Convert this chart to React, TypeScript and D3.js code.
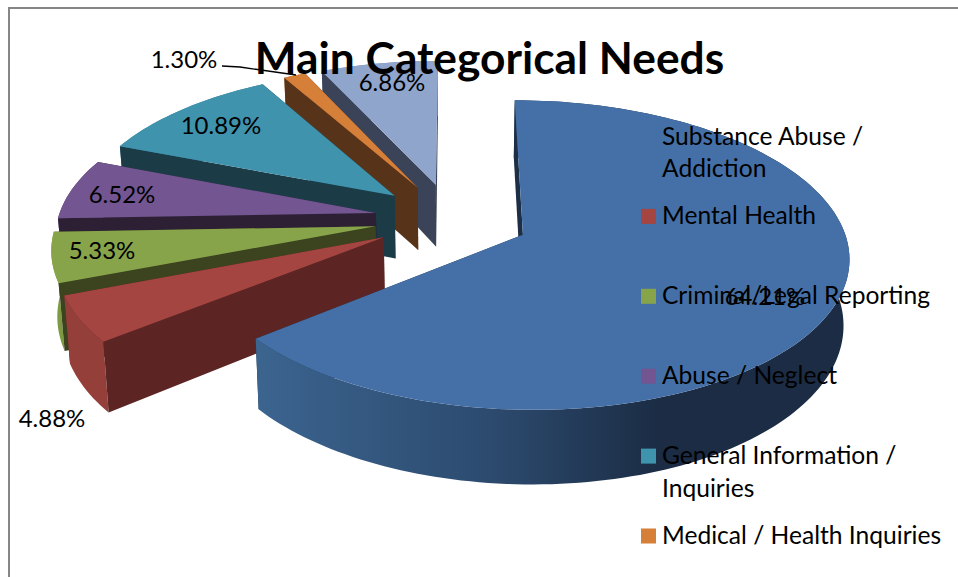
import * as d3 from "d3";

const categories = [
  "Substance Abuse / Addiction",
  "Mental Health",
  "Criminal/Legal Reporting",
  "Abuse / Neglect",
  "General Information / Inquiries",
  "Medical / Health Inquiries",
  "Other",
];
const values = [64.21, 4.88, 5.33, 6.52, 10.89, 1.3, 6.86];
const legendLines = [
  ["Substance Abuse /", "Addiction"],
  ["Mental Health"],
  ["Criminal/Legal Reporting"],
  ["Abuse / Neglect"],
  ["General Information /", "Inquiries"],
  ["Medical / Health Inquiries"],
];
const topColors = ["#4570a7", "#a54542", "#88a44a", "#725591", "#3f93ad", "#d67f39", "#8fa5cc"];
const sideColors = ["#1c2f47", "#5c2523", "#3b431f", "#2d2035", "#1b3b47", "#57331a", "#3a4358"];
const rimColors = ["url(#blueRim)", "#953f3b", "#7d9a42", "#5f4678", "#357a90", "#b06a30", "#7688aa"];

// label spots, same order as values
const labelSpots: [number, number][] = [
  [765, 305],
  [52, 427],
  [102, 259],
  [122, 203],
  [221, 134],
  [184, 68],
  [392, 91],
];

const width = 958;
const height = 577;
const cx = 452;
const cy = 219;
const radiusX = 318;
const radiusY = 148;
const explode = 0.244;
const perspective = 0.129;
const depth = 64;

// ground plane (u, v) to screen, z = 1 is the bottom face of the pie
function project(u: number, v: number, z: number): [number, number] {
  const p = 1 / (1 - perspective * v);
  const x = cx + radiusX * u * p;
  const y = cy + radiusY * v * p;
  return z ? [cx + (x - cx) * 0.985, y + depth * p] : [x, y];
}

const pie = d3
  .pie<number>()
  .sort(null)
  .startAngle(0)
  .endAngle(2 * Math.PI);

const closed = d3.line().curve(d3.curveLinearClosed);

export default function App() {
  const arcs = pie(values);

  const slices = arcs.map((a, i) => {
    const mid = (a.startAngle + a.endAngle) / 2;
    const ou = explode * Math.sin(mid);
    const ov = -explode * Math.cos(mid);
    const steps = Math.max(4, Math.ceil((a.endAngle - a.startAngle) * 40));
    const angles = d3.range(steps + 1).map((s) => a.startAngle + ((a.endAngle - a.startAngle) * s) / steps);
    const rim = (z: number) =>
      angles.map((t) => project(ou + Math.sin(t), ov - Math.cos(t), z));
    const apex = (z: number) => project(ou, ov, z);
    const top = rim(0);
    const bottom = rim(1);
    return {
      i,
      top: closed([apex(0), ...top]) || "",
      rimWall: closed([...top, ...bottom.slice().reverse()]) || "",
      startWall: closed([apex(0), top[0], bottom[0], apex(1)]) || "",
      endWall: closed([apex(0), top[steps], bottom[steps], apex(1)]) || "",
    };
  });

  // painter's order, back of the pie first
  const order = [6, 5, 4, 3, 2, 1, 0];

  return (
    <svg
      width={width}
      height={height}
      style={{ position: "absolute", left: 0, top: 0, background: "#fff", fontFamily: "Lato, Carlito, sans-serif" }}
    >
      <defs>
        <linearGradient id="blueRim" gradientUnits="userSpaceOnUse" x1={258} x2={850} y1={0} y2={0}>
          <stop offset="0" stopColor="#3b648f" />
          <stop offset="0.4" stopColor="#2c4a6e" />
          <stop offset="0.68" stopColor="#1b2c44" />
          <stop offset="1" stopColor="#1b2c44" />
        </linearGradient>
      </defs>

      <path d={`M9,${height}V8H${width}`} fill="none" stroke="#868686" strokeWidth={2} />

      {order.map((k) => {
        const s = slices[k];
        return (
          <g key={categories[k]}>
            <path d={s.endWall} fill={sideColors[k]} />
            <path d={s.rimWall} fill={rimColors[k]} />
            <path d={s.startWall} fill={sideColors[k]} />
            <path d={s.top} fill={topColors[k]} />
          </g>
        );
      })}

      <polyline points="222,66 240,67 296,75" fill="none" stroke="#000" strokeWidth={1.3} />

      {values.map((v, i) => (
        <text key={i} x={labelSpots[i][0]} y={labelSpots[i][1]} textAnchor="middle" fontSize={24} fill="#000">
          {v.toFixed(2)}%
        </text>
      ))}

      {legendLines.map((lines, i) => (
        <g key={i} transform={`translate(641,${137 + i * 79.9})`}>
          <rect x={0} y={-8} width={15} height={15} fill={topColors[i]} />
          {lines.map((line, j) => (
            <text key={j} x={21} y={7.5 + j * 32.5} fontSize={24.6} fill="#000">
              {line}
            </text>
          ))}
        </g>
      ))}

      <text x={489.5} y={74} textAnchor="middle" fontSize={44.3} fontWeight={700} fill="#000">
        Main Categorical Needs
      </text>
    </svg>
  );
}
